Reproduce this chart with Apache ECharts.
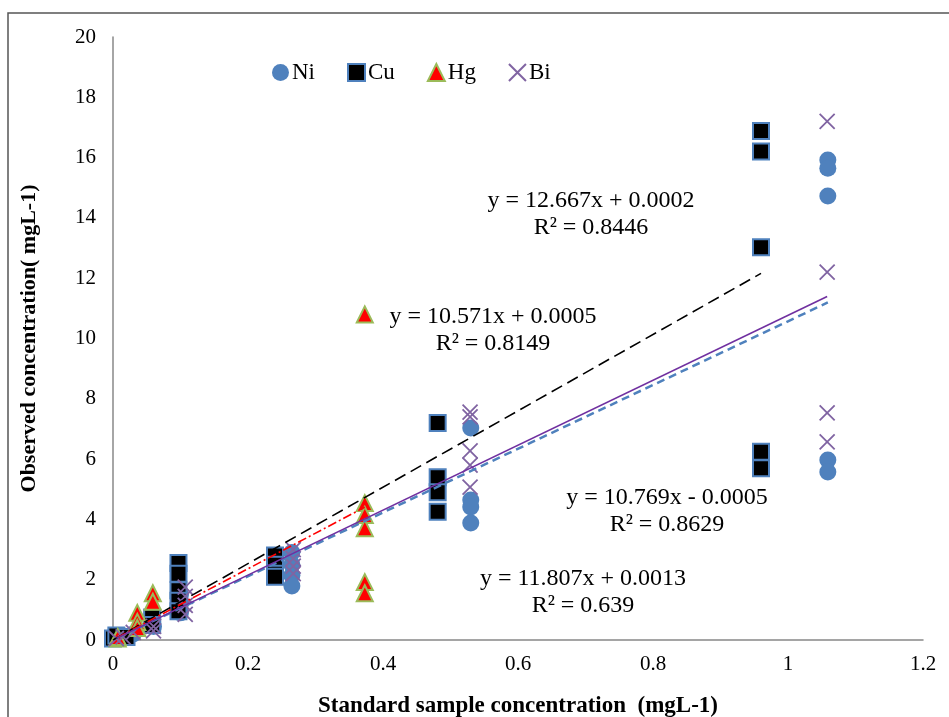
<!DOCTYPE html>
<html><head><meta charset="utf-8">
<script src="https://cdn.jsdelivr.net/npm/echarts@6/dist/echarts.min.js"></script>
<style>html,body{margin:0;padding:0;background:#fff}#c{width:949px;height:717px}</style>
</head><body><div id="c"></div>
<script>
// Data [x, y]
const niData = [[0.005,0.05],[0.03,0.2],[0.06,0.45],[0.1,1.5],[0.1,1.2],[0.1,0.9],
  [0.265,2.9],[0.265,2.5],[0.265,2.15],[0.265,1.79],
  [0.53,7.03],[0.53,4.64],[0.53,4.41],[0.53,3.88],
  [1.059,15.92],[1.059,15.65],[1.059,14.73],[1.059,5.97],[1.059,5.57]];
const cuData = [[0.0,0.05],[0.005,0.15],[0.02,0.1],[0.058,0.75],[0.058,0.5],
  [0.097,2.55],[0.097,2.2],[0.097,1.65],[0.097,1.3],[0.097,0.95],
  [0.24,2.8],[0.24,2.5],[0.24,2.2],[0.24,2.1],
  [0.481,7.2],[0.481,5.4],[0.481,4.9],[0.481,4.25],
  [0.96,16.88],[0.96,16.2],[0.96,13.03],[0.96,6.24],[0.96,5.7]];
const hgData = [[0.007,0.05],[0.007,0.1],[0.036,0.9],[0.036,0.6],[0.036,0.4],
  [0.059,1.55],[0.059,1.27],
  [0.373,4.54],[0.373,4.15],[0.373,3.71],[0.373,1.92],[0.373,1.55],[0.373,10.8]];
const biData = [[0.005,0.05],[0.015,0.1],[0.03,0.25],[0.06,0.45],[0.06,0.3],
  [0.107,1.75],[0.107,1.45],[0.107,1.15],[0.107,0.85],
  [0.267,3.0],[0.267,2.7],[0.267,2.45],[0.267,2.2],
  [0.529,7.56],[0.529,7.4],[0.529,6.27],[0.529,5.8],[0.529,5.07],
  [1.058,17.2],[1.058,12.2],[1.058,7.53],[1.058,6.57]];
// Trend line equations: slope, intercept
const seriesNames = ['Ni','Cu','Hg','Bi'];
const slopes = [10.571, 12.667, 11.807, 10.769];
const intercepts = [0.0005, 0.0002, 0.0013, -0.0005];
const r2 = ['0.8149','0.8446','0.639','0.8629'];
const xTicks = [0,0.2,0.4,0.6,0.8,1,1.2];
const yTicks = [0,2,4,6,8,10,12,14,16,18,20];

const allData = [niData, cuData, hgData, biData];
function trend(i){
  const xs = allData[i].map(p=>p[0]);
  const x0 = Math.min(...xs), x1 = Math.max(...xs);
  return [[x0, slopes[i]*x0+intercepts[i]],[x1, slopes[i]*x1+intercepts[i]]];
}
function eqText(i){
  const b = intercepts[i];
  return 'y = ' + slopes[i].toFixed(3) + 'x ' + (b<0?'- ':'+ ') + Math.abs(b).toFixed(4) + '\nR² = ' + r2[i];
}
const serif = 'Liberation Serif';
const XPATH = 'path://M0,0L10,10M10,0L0,10';
const chart = echarts.init(document.getElementById('c'));
const eqPos = [[591,214],[493,330],[583,592],[667,511]];
const eqOrder = [1,0,2,3];
chart.setOption({
  animation:false,
  backgroundColor:'#fff',
  grid:{left:113,right:26,top:37,bottom:77,outerBoundsMode:'none',containLabel:false},
  legend:{
    left:267, top:56, itemWidth:17, itemHeight:17, itemGap:32,
    textStyle:{fontFamily:serif,fontSize:23,color:'#000',padding:[0,0,0,-2]},
    data:[
      {name:'Ni',icon:'circle',itemStyle:{color:'#4F81BD'}},
      {name:'Cu',icon:'rect',itemStyle:{color:'#000',borderColor:'#4F81BD',borderWidth:2}},
      {name:'Hg',icon:'triangle',itemStyle:{color:'#FF0000',borderColor:'#9BBB59',borderWidth:2}},
      {name:'Bi',icon:XPATH,itemStyle:{color:'transparent',borderColor:'#8064A2',borderWidth:2}}
    ]
  },
  xAxis:{type:'value',min:0,max:1.2,interval:0.2,
    name:'Standard sample concentration  (mgL-1)',nameLocation:'middle',nameGap:55,
    nameTextStyle:{fontFamily:serif,fontSize:23,fontWeight:'bold',color:'#000'},
    axisLine:{lineStyle:{color:'#888',width:1.5}},axisTick:{show:false},splitLine:{show:false},
    axisLabel:{fontFamily:serif,fontSize:21,color:'#000',margin:14,
      formatter:v=>String(+v.toFixed(1))}},
  yAxis:{type:'value',min:0,max:20,interval:2,
    name:'Observed concentration( mgL-1)',nameLocation:'middle',nameGap:73,
    nameTextStyle:{fontFamily:serif,fontSize:22,fontWeight:'bold',color:'#000'},
    axisLine:{show:true,lineStyle:{color:'#888',width:1.5}},axisTick:{show:false},splitLine:{show:false},
    axisLabel:{fontFamily:serif,fontSize:21,color:'#000',margin:17}},
  graphic:[
    {type:'rect',shape:{x:8,y:13,width:1000,height:800},style:{fill:'none',stroke:'#555',lineWidth:1.5},silent:true},
    ...[0,1,2,3].map(k=>({type:'text',x:eqPos[k][0],y:eqPos[k][1],z:100,
      style:{text:eqText(eqOrder[k]),fontFamily:serif,fontSize:24,fill:'#000',align:'center',verticalAlign:'middle',lineHeight:27}}))
  ],
  series:[
    {name:'Ni',type:'scatter',data:niData,symbol:'circle',symbolSize:17,itemStyle:{color:'#4F81BD',opacity:1},z:2},
    {name:'Cu',type:'scatter',data:cuData,symbol:'rect',symbolSize:16,itemStyle:{color:'#000',borderColor:'#4F81BD',borderWidth:2,opacity:1},z:3},
    {name:'Hg',type:'scatter',data:hgData,symbol:'triangle',symbolSize:16,itemStyle:{color:'#FF0000',borderColor:'#9BBB59',borderWidth:2,opacity:1},z:4},
    {name:'Bi',type:'scatter',data:biData,symbol:XPATH,symbolSize:15,itemStyle:{color:'transparent',borderColor:'#8064A2',borderWidth:1.8,opacity:1},z:5},
    {name:'NiT',type:'line',data:trend(0),symbol:'none',z:10,lineStyle:{color:'#4F81BD',width:2.5,type:[8,5]}},
    {name:'CuT',type:'line',data:trend(1),symbol:'none',z:10,lineStyle:{color:'#000',width:1.6,type:[12,6]}},
    {name:'HgT',type:'line',data:trend(2),symbol:'none',z:10,lineStyle:{color:'#FF0000',width:1.6,type:[9,3,2,3]}},
    {name:'BiT',type:'line',data:trend(3),symbol:'none',z:11,lineStyle:{color:'#7030A0',width:1.6}}
  ]
});
</script></body></html>
